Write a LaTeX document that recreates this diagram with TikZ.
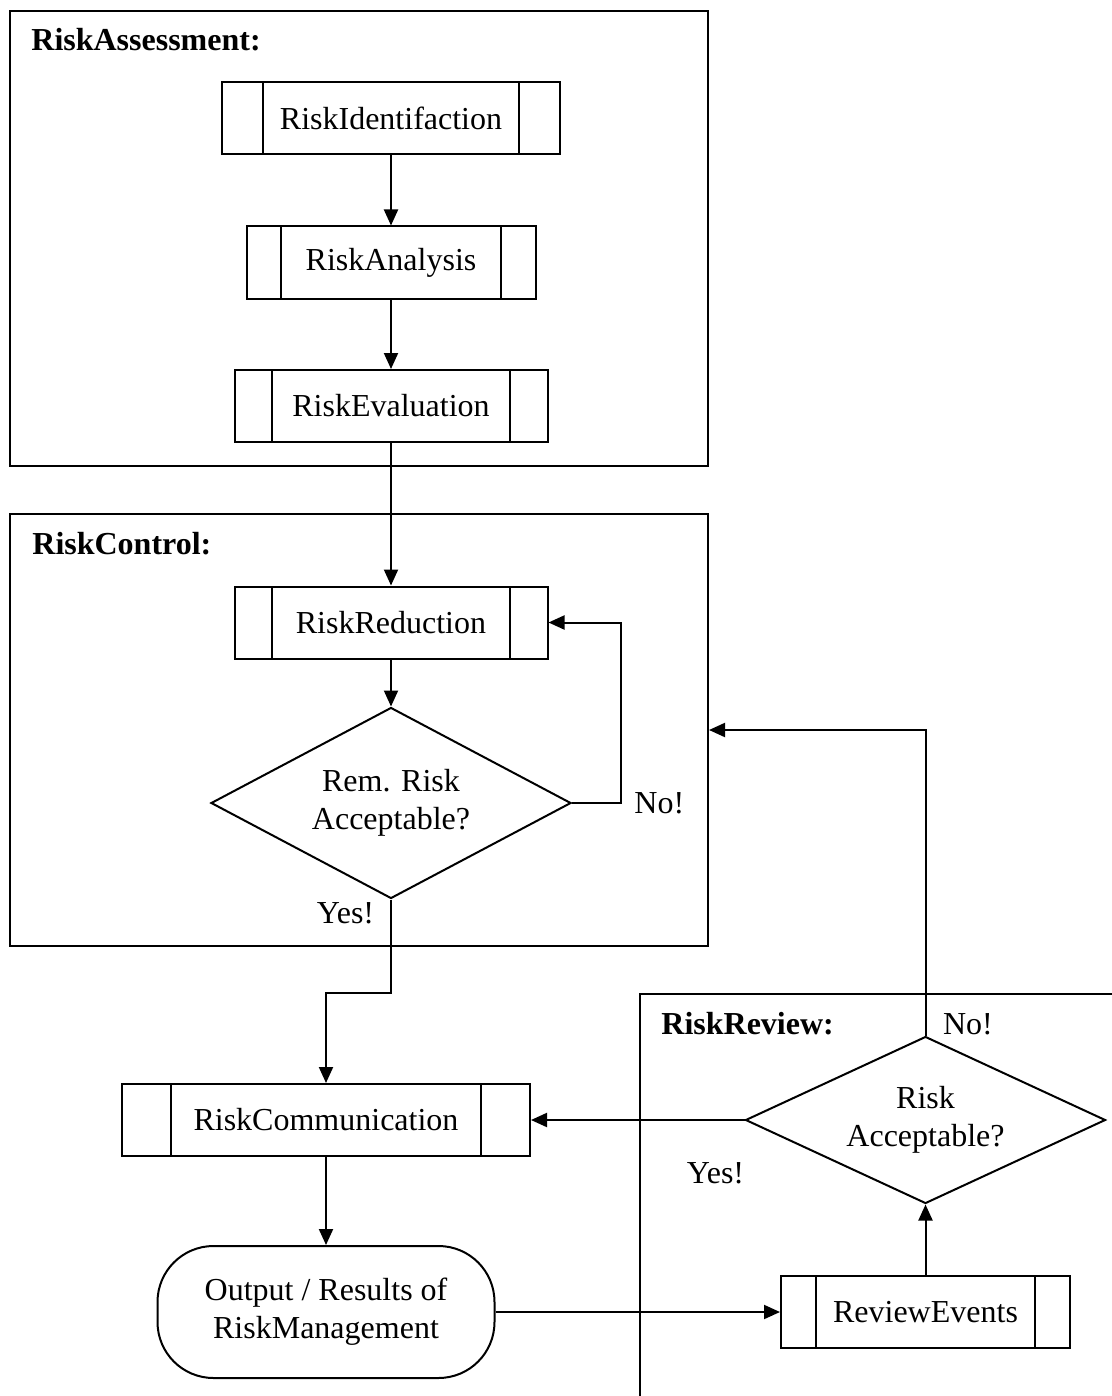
\documentclass[tikz,border=0pt]{standalone}
\usepackage{fontspec}
\setmainfont{Liberation Serif}
\usetikzlibrary{arrows.meta,shapes.geometric}
\newcommand{\FlowTip}{Triangle[length=8pt,width=7pt]}
\tikzset{flow/.style={line width=1pt,-{\FlowTip}}}
\tikzset{frm/.style={draw,line width=1pt,inner sep=0pt}}
\tikzset{ttl/.style={font=\bfseries,anchor=base west,inner sep=0pt}}
\tikzset{subproc/.style={draw,line width=1pt,inner sep=0pt,minimum width=#1,minimum height=36pt,path picture={\draw[line width=1pt]([xshift=.12*#1]path picture bounding box.north west)--([xshift=.12*#1]path picture bounding box.south west)([xshift=-.12*#1]path picture bounding box.north east)--([xshift=-.12*#1]path picture bounding box.south east);}}}
\tikzset{decide/.style={draw,diamond,line width=1pt,inner sep=0pt,align=center,shape aspect=2.2,minimum width=180pt,minimum height=#1}}
\tikzset{term/.style={draw,rounded corners=28pt,line width=1pt,align=center,minimum width=168.5pt,minimum height=66pt}}

\begin{document}
\begin{tikzpicture}[x=.5pt,y=-.5pt]
\fontsize{16}{19}\selectfont
\useasboundingbox(0,0)rectangle(1112,1396);
\node[frm,minimum width=349pt,minimum height=227.5pt](assess)at(359,238.5){};
\node[frm,minimum width=349pt,minimum height=216pt](control)at(359,730){};
\draw[line width=1pt](1112,994)--(640,994)--(640,1396);
\node[ttl](assesst)at(31,51){RiskAssessment:};\node[ttl](controlt)at(32,554){RiskControl:};\node[ttl](reviewt)at(661,1034){RiskReview:};
\node[subproc=169pt](riskid)at(391,118){RiskIdentifaction};
\node[subproc=144.5pt](riskana)at(391,262.5){RiskAnalysis};
\node[subproc=156.5pt](riskeval)at(391,406){RiskEvaluation};
\node[subproc=156.5pt](riskred)at(391,622.5){RiskReduction};
\node[decide=95.5pt](remacc)at(391,803){Rem. Risk\\Acceptable?};
\node[anchor=west,inner sep=0pt](remno)at(634,803){No!};\node(remyes)at(345.5,913){Yes!};
\node[subproc=204pt](riskcom)at(326,1120){RiskCommunication};
\node[term](output)at(326,1312){Output / Results of\\RiskManagement};
\node[subproc=144.5pt](revevents)at(925.5,1312){ReviewEvents};
\node[decide=83.5pt](revacc)at(925.5,1120){Risk\\Acceptable?};
\node(revno)at(968,1024){No!};\node(revyes)at(715.5,1173){Yes!};
\draw[flow](riskid)--(riskana);\draw[flow](riskana)--(riskeval);\draw[flow](riskeval)--(riskred);\draw[flow](riskred)--(remacc);
\draw[flow](remacc.east)--++(49,0)|-(riskred.east);
\draw[flow](remacc.south)--++(0,93)-|(riskcom.north);
\draw[flow](revacc.west)--(riskcom.east);\draw[flow](revacc.north)|-(control.east);
\draw[flow](riskcom)--(output);\draw[flow](output.east)--(revevents.west);\draw[flow](revevents)--(revacc);
\end{tikzpicture}
\end{document}
